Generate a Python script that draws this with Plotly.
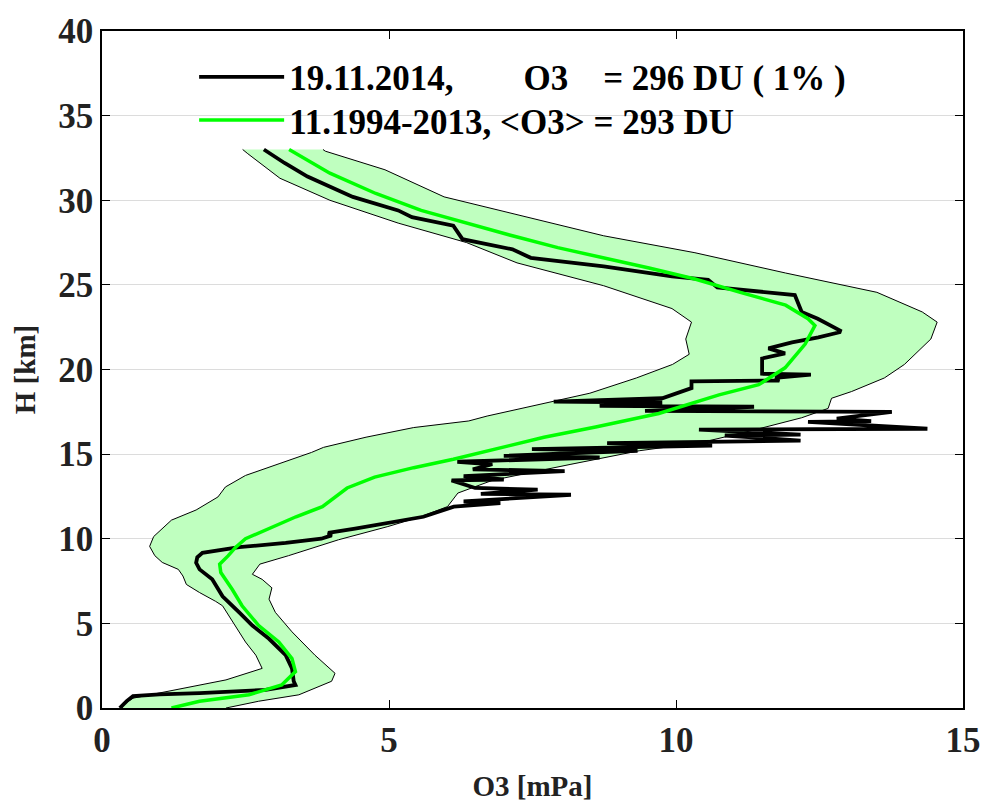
import plotly.graph_objects as go

# ---- data ----
# 19.11.2014 sounding profile: O3 partial pressure [mPa] vs altitude [km]
prof_o3 = [0.31, 0.43, 0.54, 1.0, 1.70, 2.85, 3.37, 3.34, 3.31, 3.2, 2.91, 2.62, 2.39, 2.1, 1.92, 1.70, 1.64, 1.66,
           1.75, 2.39, 3.2, 3.82, 4.0, 3.94, 4.41, 5.09, 5.6, 6.13, 6.94, 6.3, 8.17, 6.6, 7.59, 6.5, 6.09, 7.0,
           6.3, 8.06, 6.46, 6.8, 6.19, 8.67, 7.0, 9.33, 7.49, 10.63, 8.8, 12.17, 10.85, 12.17, 10.4, 14.38,
           12.3, 13.4, 12.8, 13.76, 9.46, 11.36, 8.67, 9.76, 7.87, 9.76, 10.27, 10.27, 11.8, 11.73, 12.35,
           11.5, 11.5, 11.5, 11.9, 11.61, 12.02, 12.48, 12.85, 12.86, 12.47, 12.19, 12.07, 10.72, 10.56, 9.93,
           8.74, 7.47, 7.15, 6.28, 6.12, 5.4, 5.16, 4.37, 3.58, 3.18, 2.82]
prof_h = [0.0, 0.41, 0.7, 0.8, 0.88, 1.07, 1.36, 1.58, 2.34, 3.12, 4.09, 4.87, 5.65, 6.6, 7.6, 8.19, 8.58, 8.9,
          9.17, 9.5, 9.75, 10.0, 10.2, 10.35, 10.6, 11.0, 11.3, 11.9, 12.1, 12.2, 12.6, 12.65, 12.9, 13.0, 13.45, 13.5,
          13.7, 14.0, 14.1, 14.4, 14.55, 14.8, 14.9, 15.2, 15.3, 15.5, 15.65, 15.8, 16.1, 16.15, 16.45, 16.5,
          16.9, 16.95, 17.1, 17.5, 17.55, 17.8, 17.85, 18.05, 18.1, 18.3, 18.9, 19.3, 19.35, 19.5, 19.7,
          19.75, 20.2, 20.65, 20.95, 21.25, 21.6, 21.9, 22.2, 22.3, 23.0, 23.4, 24.4, 24.85, 25.3, 25.5,
          26.1, 26.6, 27.1, 27.7, 28.5, 29.0, 29.4, 30.2, 31.4, 32.2, 33.0]

# November 1994-2013 mean profile
mean_o3 = [1.21, 1.7, 2.56, 3.13, 3.37, 3.31, 3.08, 2.73, 2.44, 2.27, 2.07, 2.05, 2.2, 2.33, 2.5, 2.84, 3.38,
           3.84, 4.27, 4.75, 5.43, 6.12, 6.5, 7.1, 7.7, 8.6, 9.7, 10.2, 10.75, 11.44, 11.9, 12.25, 12.42, 12.3,
           11.91, 11.12, 10.33, 9.53, 8.74, 7.94, 7.15, 6.35, 5.56, 4.77, 3.97, 3.26]
mean_h = [0.0, 0.4, 0.78, 1.36, 2.15, 2.92, 3.9, 4.87, 6.04, 7.0, 8.0, 8.5, 9.0, 9.5, 10.0, 10.5, 11.3,
          11.9, 13.0, 13.64, 14.2, 14.7, 15.0, 15.5, 16.0, 16.6, 17.4, 17.9, 18.5, 19.1, 20.1, 21.5, 22.6, 23.0,
          23.8, 24.56, 25.35, 26.0, 26.6, 27.2, 27.9, 28.65, 29.4, 30.4, 31.6, 33.0]

# variability band: low edge and high edge
low_o3 = [0.35, 0.37, 0.54, 1.12, 2.16, 2.79, 2.68, 2.5, 2.27, 2.1, 1.98, 1.7, 1.47, 1.41, 1.33, 1.05, 0.92, 0.83,
          0.9, 1.05, 1.21, 1.64, 2.02, 2.15, 2.5, 3.1, 3.65, 3.86, 4.6, 5.43, 6.39, 6.71, 7.29, 8.5, 9.31, 9.94,
          10.23, 10.17, 10.27, 9.93, 8.74, 7.23, 6.35, 5.16, 3.97, 3.1, 2.54, 2.45]
low_h = [0.0, 0.2, 0.58, 0.97, 1.66, 2.34, 3.12, 3.9, 5.1, 6.04, 6.3, 6.82, 7.3, 7.8, 8.19, 8.6, 9.0, 9.55,
         10.13, 10.6, 11.1, 11.7, 12.47, 13.06, 13.74, 14.45, 15.1, 15.4, 16.0, 16.57, 16.96, 17.25, 17.7, 18.6, 19.5, 20.3,
         20.9, 21.8, 22.8, 23.6, 24.95, 26.3, 27.5, 28.65, 30.0, 31.3, 32.75, 33.0]
high_o3 = [2.16, 2.73, 3.43, 4.0, 4.06, 3.71, 3.31, 3.02, 2.91, 2.96, 2.79, 2.62, 2.75, 3.25, 4.12, 4.98, 5.55,
           6.02, 6.2, 6.8, 8.17, 9.36, 10.46, 11.33, 12.19, 12.65, 12.71, 13.06, 13.63, 13.98, 14.44, 14.55,
           14.29, 13.5, 11.91, 10.33, 8.74, 7.15, 5.96, 4.93, 3.89, 3.85]
high_h = [0.0, 0.4, 0.78, 1.58, 2.05, 3.12, 4.5, 5.65, 6.43, 7.1, 7.6, 7.9, 8.5, 9.0, 9.94, 10.72, 11.3,
          11.9, 12.7, 13.45, 14.4, 15.2, 15.7, 16.4, 17.15, 17.7, 18.3, 18.7, 19.5, 20.3, 21.8, 22.8,
          23.4, 24.56, 25.7, 26.9, 27.9, 29.2, 30.2, 31.8, 32.9, 33.0]

x_ticks = [0, 5, 10, 15]
y_ticks = [0, 5, 10, 15, 20, 25, 30, 35, 40]

name_prof = "19.11.2014,\u00a0\u00a0\u00a0\u00a0\u00a0\u00a0\u00a0 O3\u00a0\u00a0\u00a0 = 296 DU ( 1% )"
name_mean = "11.1994-2013, &lt;O3&gt; = 293 DU"

FONT = "Liberation Serif, Times New Roman, serif"

fig = go.Figure()

# band fill (no outline), then its two edges as thin black lines
fig.add_trace(go.Scatter(
    x=low_o3 + high_o3[::-1], y=low_h + high_h[::-1],
    mode="lines", fill="toself", fillcolor="#bfffbf",
    line=dict(color="rgba(0,0,0,0)", width=0), showlegend=False, hoverinfo="skip"))
fig.add_trace(go.Scatter(x=low_o3, y=low_h, mode="lines",
                         line=dict(color="black", width=1), showlegend=False, hoverinfo="skip"))
fig.add_trace(go.Scatter(x=high_o3, y=high_h, mode="lines",
                         line=dict(color="black", width=1), showlegend=False, hoverinfo="skip"))

fig.add_trace(go.Scatter(
    x=prof_o3, y=prof_h, mode="lines", name=name_prof, legend="legend",
    line=dict(color="black", width=3.8)))

fig.add_trace(go.Scatter(
    x=mean_o3, y=mean_h, mode="lines", name=name_mean, legend="legend2",
    line=dict(color="#00ff00", width=3.5)))

axis_common = dict(
    showline=True, linecolor="black", linewidth=1.5, mirror="ticks",
    ticks="inside", ticklen=8, tickcolor="black", tickwidth=1,
    zeroline=False,
    tickfont=dict(family=FONT, size=35, color="#222222", weight="bold"),
)

fig.update_xaxes(range=[0, 15], tickvals=x_ticks, showgrid=False,
                 title=dict(text="O3 [mPa]", font=dict(family=FONT, size=29, color="#222222", weight="bold"),
                            standoff=17),
                 **axis_common)
fig.update_yaxes(range=[0, 40], tickvals=y_ticks, showgrid=True, gridcolor="#dcdcdc", gridwidth=1,
                 title=dict(text="H [km]", font=dict(family=FONT, size=29, color="#222222", weight="bold"),
                            standoff=14),
                 **axis_common)

leg_common = dict(xanchor="left", yanchor="middle", bgcolor="rgba(0,0,0,0)", borderwidth=0,
                  font=dict(family=FONT, size=35, color="black", weight="bold"),
                  itemwidth=85)

fig.update_layout(
    width=993, height=809,
    margin=dict(l=102, r=22, t=26, b=99),
    plot_bgcolor="white", paper_bgcolor="white",
    font=dict(family=FONT, color="black", weight="bold"),
    legend=dict(x=0.107, y=0.932, **leg_common),
    legend2=dict(x=0.107, y=0.868, **leg_common),
)

fig.write_html("out.html")
